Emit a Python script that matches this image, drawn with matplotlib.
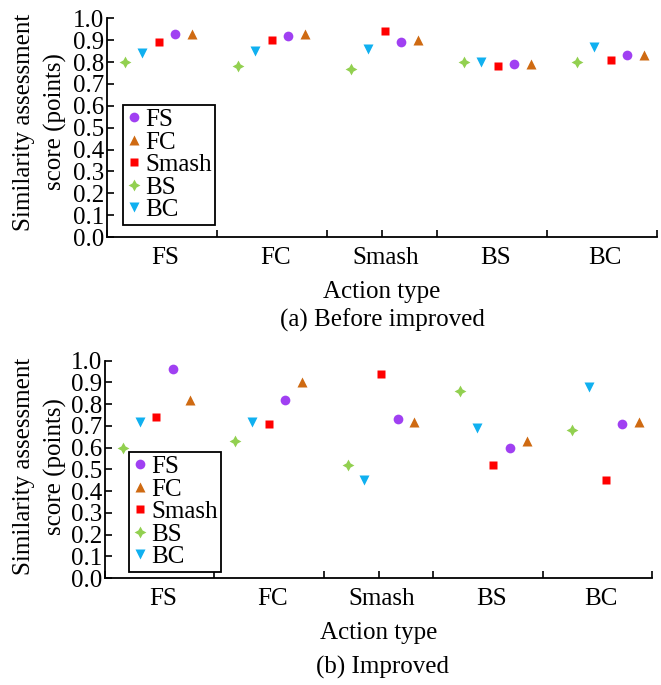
import numpy as np
import matplotlib
matplotlib.use('Agg')
from matplotlib import pyplot as plt

plt.rcParams['font.family'] = ['Liberation Serif', 'DejaVu Serif']

actions = ['FS', 'FC', 'Smash', 'BS', 'BC']

# scores per series, one value per action group
before = {
    'FS':    [0.93, 0.92, 0.89, 0.79, 0.83],
    'FC':    [0.93, 0.93, 0.90, 0.79, 0.83],
    'Smash': [0.89, 0.90, 0.94, 0.78, 0.81],
    'BS':    [0.80, 0.78, 0.77, 0.80, 0.80],
    'BC':    [0.84, 0.85, 0.86, 0.80, 0.87],
}
improved = {
    'FS':    [0.96, 0.82, 0.73, 0.60, 0.71],
    'FC':    [0.82, 0.90, 0.72, 0.63, 0.72],
    'Smash': [0.74, 0.71, 0.94, 0.52, 0.45],
    'BS':    [0.60, 0.63, 0.52, 0.86, 0.68],
    'BC':    [0.72, 0.72, 0.45, 0.69, 0.88],
}

# drawing order within a group (left to right)
order = ['BS', 'BC', 'Smash', 'FS', 'FC']
legend_order = ['FS', 'FC', 'Smash', 'BS', 'BC']
style = {
    'FS':    dict(marker='o', color='#A040F2', ms=7),
    'FC':    dict(marker='^', color='#CF6A12', ms=7),
    'Smash': dict(marker='s', color='#FF0000', ms=6.3),
    'BS':    dict(marker=(4, 1, 0), color='#92D050', ms=8.5),
    'BC':    dict(marker='v', color='#10B0F0', ms=7),
}

fig = plt.figure(figsize=(6.61, 6.85), dpi=100, facecolor='white')
ax1 = fig.add_axes([0.1619, 0.654, 0.8321, 0.3193])
ax2 = fig.add_axes([0.1589, 0.1562, 0.8275, 0.3172])


def draw(ax, data, leg_anchor):
    x = np.arange(len(actions))
    handles = {}
    for k, name in enumerate(order):
        h, = ax.plot(0.165 + 1.027 * x + 0.152 * k, data[name],
                     linestyle='none', mec='none', label=name, **style[name])
        handles[name] = h
    ax.set_xlim(0, 5)
    ax.set_ylim(0, 1.0)
    ax.spines['top'].set_visible(False)
    ax.spines['right'].set_visible(False)
    for s in ['left', 'bottom']:
        ax.spines[s].set_linewidth(1.3)
    ax.set_yticks(np.arange(0, 1.01, 0.1))
    ax.set_yticklabels(['%.1f' % v for v in np.arange(0, 1.01, 0.1)])
    ax.set_xticks(list(range(6)) + [2.5])
    ax.set_xticklabels([])
    ax.set_xticks(x + 0.53, minor=True)
    ax.set_xticklabels(actions, minor=True)
    ax.tick_params(axis='both', which='major', direction='in', length=5,
                   width=1.2, labelsize=18)
    ax.tick_params(axis='y', pad=2)
    ax.tick_params(axis='x', which='minor', length=0, pad=7.5, labelsize=18)
    ax.set_xlabel('Action type', fontsize=18, labelpad=8.5)
    leg = ax.legend(handles=[handles[n] for n in legend_order],
                    loc='lower left', bbox_to_anchor=leg_anchor,
                    borderaxespad=0, fontsize=18, handlelength=0.6,
                    handletextpad=0.13, labelspacing=0.0, borderpad=0.15,
                    fancybox=False, edgecolor='black', framealpha=1)
    leg.get_frame().set_linewidth(1.3)


draw(ax1, before, (0.029, 0.055))
draw(ax2, improved, (0.044, 0.028))

fig.text(0.060, 0.822, 'Similarity assessment\nscore (points)', rotation=90,
         ha='center', va='center', multialignment='center', fontsize=18,
         linespacing=1.5)
fig.text(0.060, 0.319, 'Similarity assessment\nscore (points)', rotation=90,
         ha='center', va='center', multialignment='center', fontsize=18,
         linespacing=1.5)
fig.text(0.579, 1 - 320 / 685, '(a) Before improved', ha='center',
         va='center', fontsize=18)
fig.text(0.579, 1 - 667 / 685, '(b) Improved', ha='center', va='center',
         fontsize=18)

fig.savefig('out.png', dpi=100, facecolor='white')
